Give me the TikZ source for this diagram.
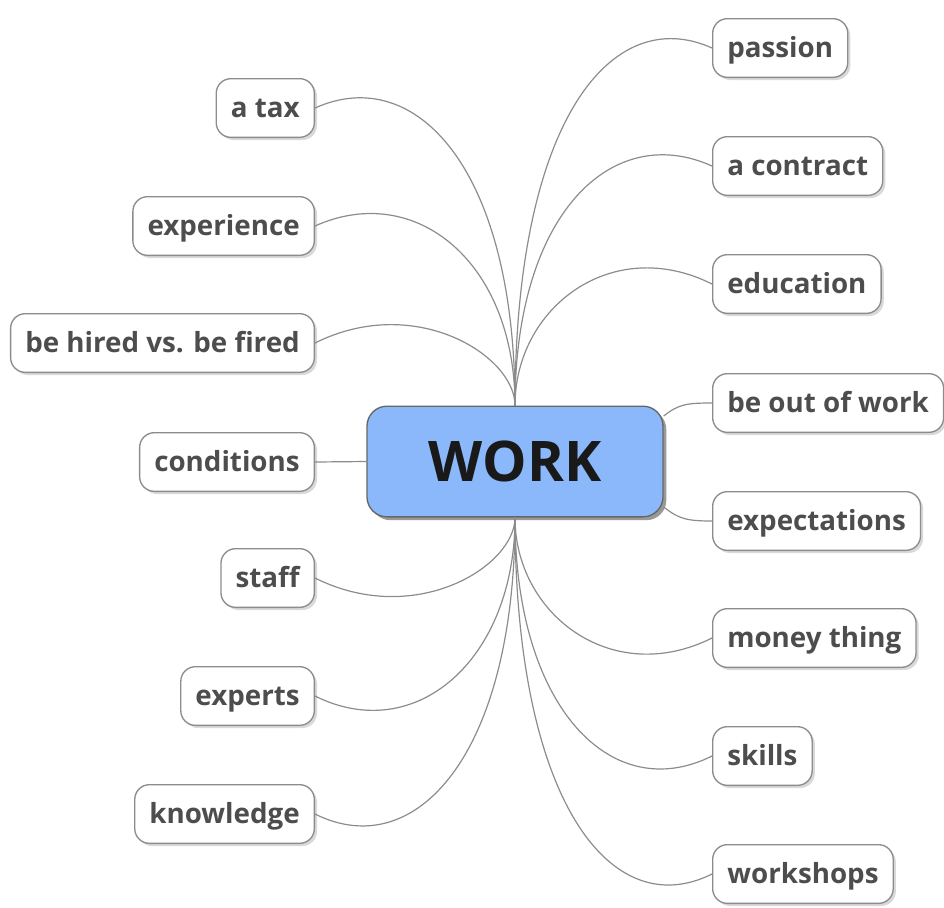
\documentclass[tikz,border=0pt]{standalone}
\usepackage{fontspec}
\setmainfont{Open Sans}
\usetikzlibrary{shadows}
\definecolor{workblue}{HTML}{8AB8FA}
\definecolor{linkgray}{HTML}{8C8C8C}
\definecolor{textgray}{HTML}{4D4D4D}
\tikzset{
  topic/.style={draw=linkgray, line width=1pt, rounded corners=11pt, fill=white,
    text=textgray, font=\bfseries\fontsize{20.8}{25}\selectfont,
    minimum height=44pt, inner xsep=11pt, text height=17pt, text depth=3pt,
    drop shadow={shadow xshift=2pt, shadow yshift=-2pt, opacity=0.3}},
  central/.style={draw=black!60, line width=1pt, fill=workblue, rounded corners=15pt,
    text=black!90, font=\bfseries\fontsize{42}{48}\selectfont,
    minimum width=222pt, minimum height=83pt,
    drop shadow={shadow xshift=2.5pt, shadow yshift=-2.5pt, opacity=0.8}},
  link/.style={draw=linkgray, line width=0.9pt}
}
\begin{document}
\begin{tikzpicture}[x=0.75pt, y=-0.75pt]
    \useasboundingbox (0,0) rectangle (944,907);
    \node[central] (work) at (515,461.5) {WORK};

    \node[topic, anchor=east] (tax) at (315,108) {a tax};
    \node[topic, anchor=east] (experience) at (315,226) {experience};
    \node[topic, anchor=east] (hired) at (315,343) {be hired vs. be fired};
    \node[topic, anchor=east] (conditions) at (315,462) {conditions};
    \node[topic, anchor=east] (staff) at (315,578) {staff};
    \node[topic, anchor=east] (experts) at (315,696) {experts};
    \node[topic, anchor=east] (knowledge) at (315,814) {knowledge};

    \node[topic, anchor=west] (passion) at (712,48) {passion};
    \node[topic, anchor=west] (contract) at (712,166) {a contract};
    \node[topic, anchor=west] (education) at (712,284) {education};
    \node[topic, anchor=west] (outofwork) at (712,403) {be out of work};
    \node[topic, anchor=west] (expectations) at (712,521) {expectations};
    \node[topic, anchor=west] (money) at (712,638) {money thing};
    \node[topic, anchor=west] (skills) at (712,756) {skills};
    \node[topic, anchor=west] (workshops) at (712,874) {workshops};

    \path[link] (tax.east) .. controls +(100,-45) and +(0,-238) .. (work.north);
    \path[link] (experience.east) .. controls +(100,-45) and +(0,-144) .. (work.north);
    \path[link] (hired.east) .. controls +(100,-50) and +(0,-50) .. (work.north);
    \path[link] (conditions.east) -- (work.west);
    \path[link] (staff.east) .. controls +(100,50) and +(0,49) .. (work.south);
    \path[link] (experts.east) .. controls +(100,50) and +(0,143) .. (work.south);
    \path[link] (knowledge.east) .. controls +(100,50) and +(0,238) .. (work.south);

    \path[link] (work.north) .. controls +(0,-286) and +(-100,-45) .. (passion.west);
    \path[link] (work.north) .. controls +(0,-192) and +(-100,-45) .. (contract.west);
    \path[link] (work.north) .. controls +(0,-98) and +(-100,-50) .. (education.west);
    \path[link] (work.17) .. controls +(15,-12) and +(-25,0) .. (outofwork.west);
    \path[link] (work.-17) .. controls +(15,12) and +(-25,0) .. (expectations.west);
    \path[link] (work.south) .. controls +(0,97) and +(-100,50) .. (money.west);
    \path[link] (work.south) .. controls +(0,191) and +(-100,50) .. (skills.west);
    \path[link] (work.south) .. controls +(0,286) and +(-100,50) .. (workshops.west);
\end{tikzpicture}
\end{document}
